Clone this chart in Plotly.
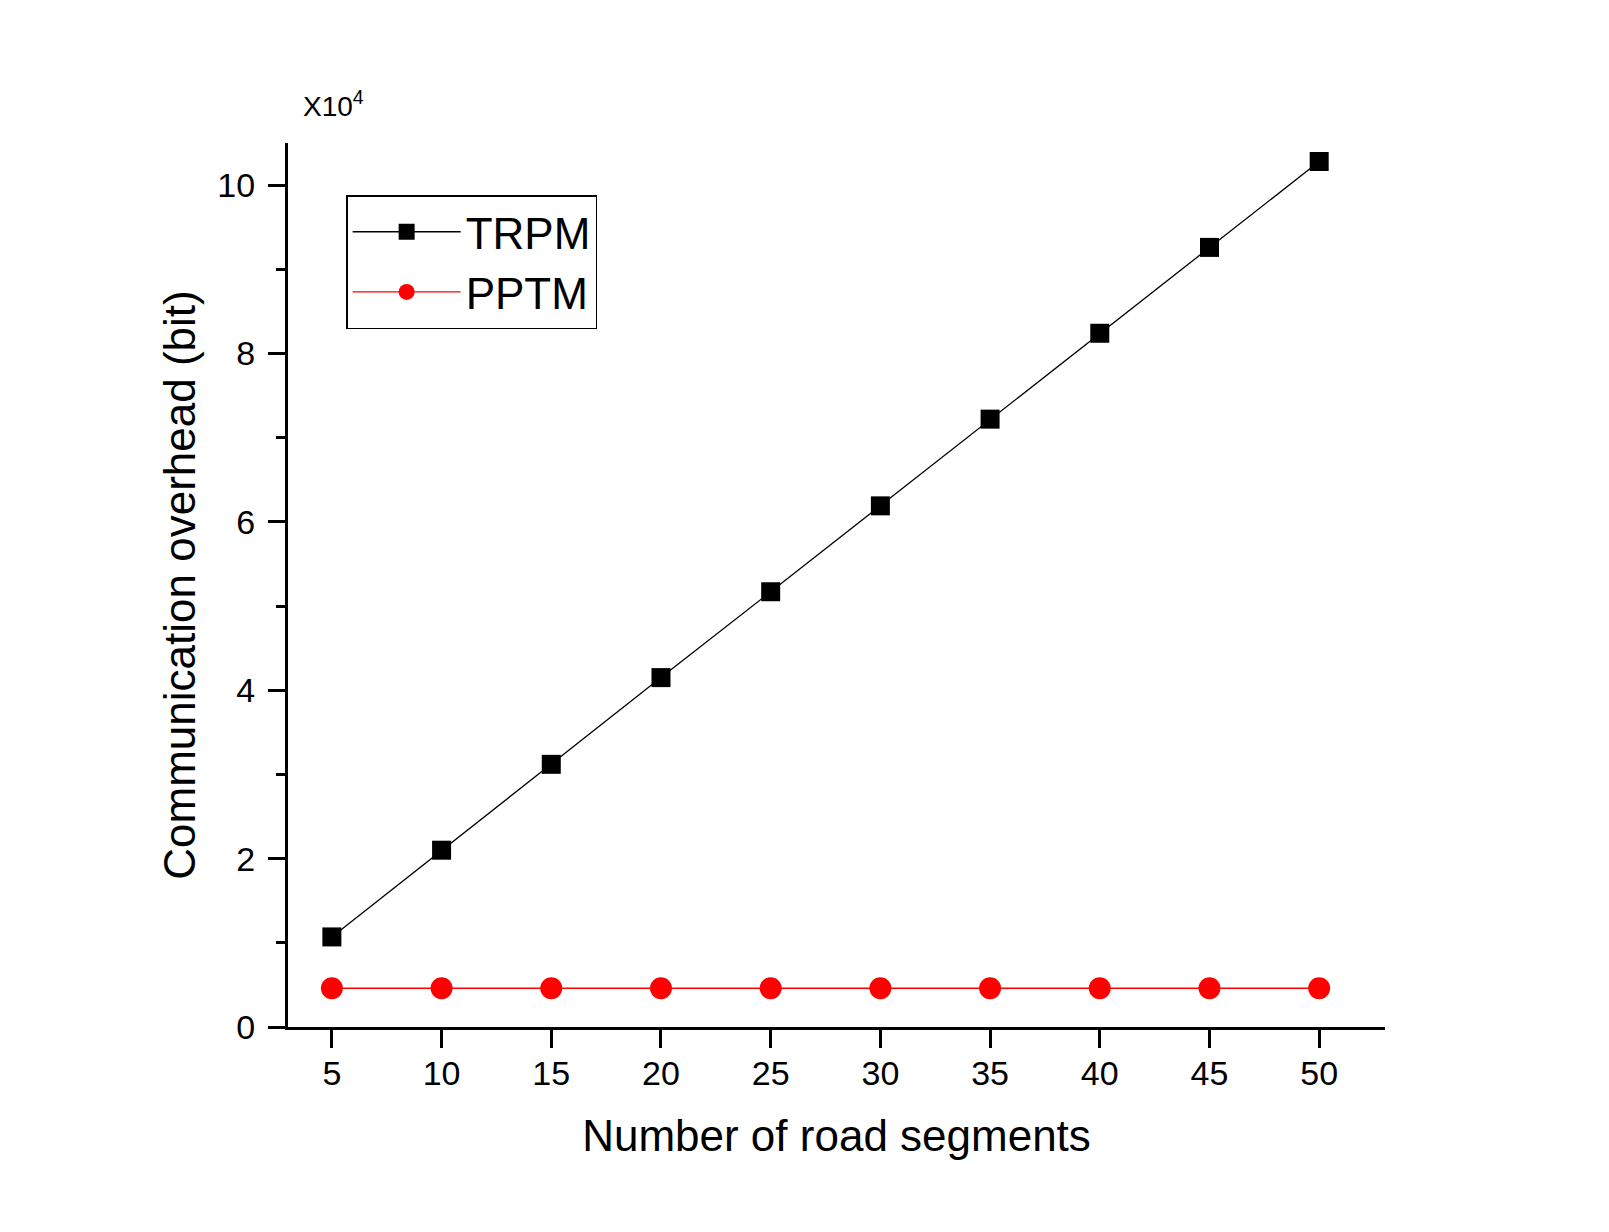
import plotly.graph_objects as go

segments = [5, 10, 15, 20, 25, 30, 35, 40, 45, 50]
trpm = [1.07, 2.10, 3.12, 4.15, 5.17, 6.19, 7.22, 8.24, 9.26, 10.28]
pptm = [0.46, 0.46, 0.46, 0.46, 0.46, 0.46, 0.46, 0.46, 0.46, 0.46]
x_ticks = [5, 10, 15, 20, 25, 30, 35, 40, 45, 50]
y_ticks = [0, 2, 4, 6, 8, 10]

FONT = "Liberation Sans, Arial, sans-serif"

fig = go.Figure()
fig.add_trace(go.Scatter(
    x=segments, y=trpm, name="TRPM", mode="lines+markers",
    line=dict(color="black", width=1.3),
    marker=dict(symbol="square", size=19, color="black"),
))
fig.add_trace(go.Scatter(
    x=segments, y=pptm, name="PPTM", mode="lines+markers",
    line=dict(color="#FF0000", width=1.3),
    marker=dict(symbol="circle", size=22, color="#FF0000"),
))

W, H = 1609, 1232
L, R, T, B = 288, 224, 143, 205

fig.update_layout(
    width=W, height=H,
    margin=dict(l=L, r=R, t=T, b=B, autoexpand=False),
    paper_bgcolor="white", plot_bgcolor="white",
    font=dict(family=FONT, color="black"),
    showlegend=True,
    legend=dict(
        x=0.053, y=0.941, xanchor="left", yanchor="top",
        bordercolor="black", borderwidth=1.5, bgcolor="white",
        font=dict(size=44, family=FONT, color="black"),
        itemwidth=108, tracegroupgap=0,
    ),
    xaxis=dict(
        range=[3, 53], tickvals=x_ticks, ticktext=[str(v) for v in x_ticks],
        showline=True, linecolor="black", linewidth=3, mirror=False,
        ticks="outside", ticklen=18, tickwidth=3, tickcolor="black",
        tickfont=dict(size=34, family=FONT, color="black"),
        ticklabelstandoff=-4,
        showgrid=False, zeroline=False,
        title=dict(text="Number of road segments", font=dict(size=44, family=FONT, color="black"), standoff=30),
    ),
    yaxis=dict(
        range=[0, 10.5], tickvals=y_ticks, ticktext=[str(v) for v in y_ticks],
        showline=True, linecolor="black", linewidth=3, mirror=False,
        ticks="outside", ticklen=17, tickwidth=3, tickcolor="black",
        tickfont=dict(size=34, family=FONT, color="black"),
        ticklabelstandoff=6,
        minor=dict(dtick=1, tick0=0, ticks="outside", ticklen=9, tickwidth=2.5, tickcolor="black", showgrid=False),
        showgrid=False, zeroline=False,
        title=dict(text="Communication overhead (bit)", font=dict(size=44, family=FONT, color="black"), standoff=8),
    ),
)

fig.add_annotation(
    text="X10<sup>4</sup>", xref="paper", yref="paper",
    x=0.012, y=1.022, xanchor="left", yanchor="bottom", showarrow=False,
    font=dict(size=28, family=FONT, color="black"),
)

fig.write_html("out.html")
